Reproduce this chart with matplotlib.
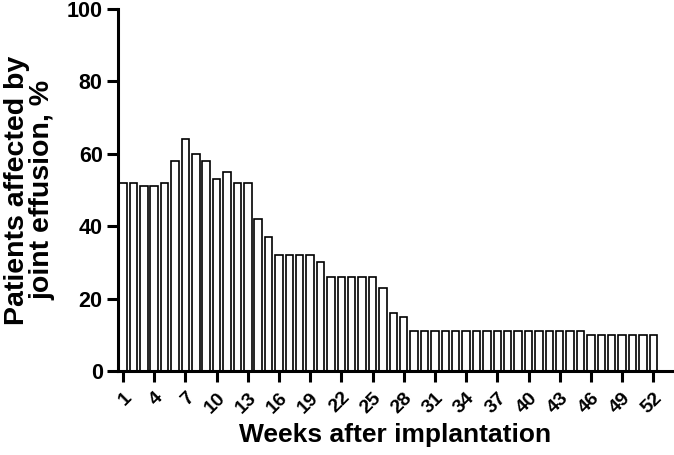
import matplotlib
matplotlib.use("Agg")
import matplotlib.pyplot as plt

# weeks after implantation and % of patients with joint effusion
weeks = list(range(1, 53))
affected_pct = [52, 52, 51, 51, 52, 58, 64, 60, 58, 53, 55, 52, 52, 42, 37,
                32, 32, 32, 32, 30, 26, 26, 26, 26, 26, 23, 16, 15,
                11, 11, 11, 11, 11, 11, 11, 11, 11, 11, 11, 11, 11, 11, 11, 11, 11,
                10, 10, 10, 10, 10, 10, 10]
tick_weeks = list(range(1, 53, 3))
y_ticks = [0, 20, 40, 60, 80, 100]

plt.rcParams['font.family'] = ['Liberation Sans', 'DejaVu Sans']
plt.rcParams['font.weight'] = 'bold'

fig = plt.figure(figsize=(6.74, 4.55), dpi=100)
ax = fig.add_axes([118 / 674, 84 / 455, (672 - 118) / 674, 362 / 455])

ax.bar(weeks, affected_pct, width=0.72, color="white", edgecolor="black", linewidth=1.2)

ax.set_xlim(0.52, 53.8)
ax.set_ylim(0, 100)

ax.set_yticks(y_ticks)
ax.set_yticklabels([str(v) for v in y_ticks], fontsize=15.5, fontweight='bold')
ax.set_xticks(tick_weeks)
ax.set_xticklabels([str(w) for w in tick_weeks], fontsize=14, fontweight='bold',
                   rotation=45, ha='right', rotation_mode='anchor')

for side in ["top", "right"]:
    ax.spines[side].set_visible(False)
for side in ["left", "bottom"]:
    ax.spines[side].set_linewidth(2.2)

ax.tick_params(axis='both', direction='out', length=8, width=2.2)
ax.tick_params(axis='x', pad=5)
ax.tick_params(axis='y', pad=3)

ax.set_xlabel("Weeks after implantation", fontsize=19, fontweight='bold', labelpad=5)
ax.set_ylabel("Patients affected by\njoint effusion, %", fontsize=20.5, fontweight='bold',
              labelpad=8, linespacing=1.0)

fig.savefig("out.png", dpi=100)
plt.close(fig)
